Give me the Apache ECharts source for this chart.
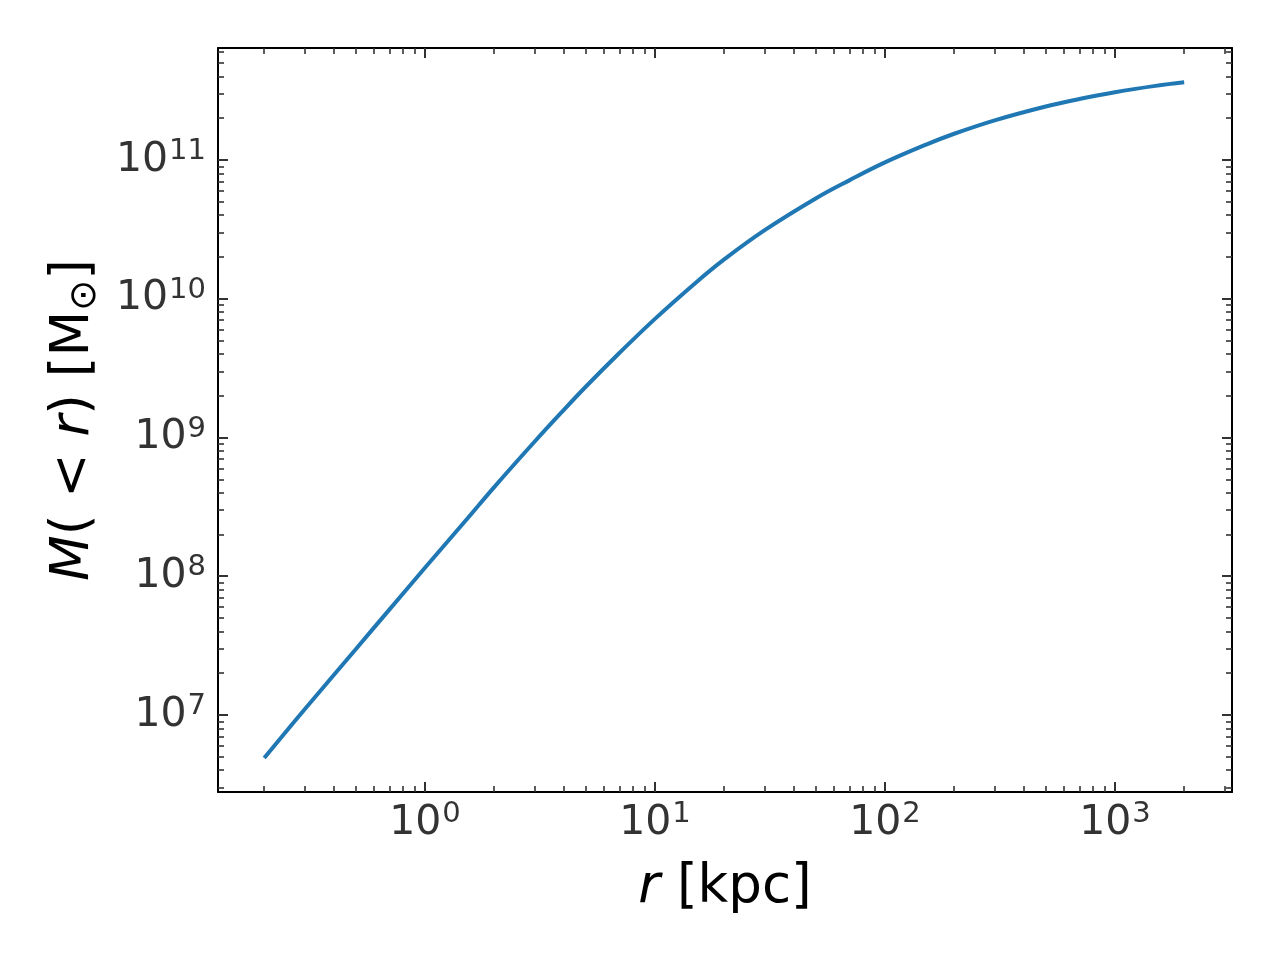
<!DOCTYPE html>
<html>
<head>
<meta charset="utf-8">
<title>M(&lt;r)</title>
<style>
  html, body { margin: 0; padding: 0; background: #fff; }
  #main { width: 1280px; height: 960px; }
</style>
<script src="https://cdn.jsdelivr.net/npm/echarts@6/dist/echarts.min.js"></script>
</head>
<body>
<div id="main"></div>
<script>
// radius [kpc] and enclosed mass [Msun]
var radius = [0.2, 0.3, 0.5, 0.7, 1, 1.5, 2, 3, 4, 5, 7, 10, 15, 20, 30, 50, 70,
              100, 150, 200, 300, 500, 700, 1000, 1500, 2000];
var mass = [4.9e6, 1.1e7, 2.98e7, 5.75e7, 1.15e8, 2.51e8, 4.39e8, 9.35e8, 1.57e9, 2.32e9,
            4.06e9, 7.16e9, 1.30e10, 1.92e10, 3.12e10, 5.28e10, 7.13e10,
            9.6e10, 1.285e11, 1.545e11, 1.93e11, 2.43e11, 2.75e11, 3.08e11, 3.42e11, 3.63e11];

// tick positions
var xMajor = [1, 10, 100, 1000];
var yMajor = [1e7, 1e8, 1e9, 1e10, 1e11];
var mantissa = [2, 3, 4, 5, 6, 7, 8, 9];
var xDecades = [0.1, 1, 10, 100, 1000];
var yDecades = [1e6, 1e7, 1e8, 1e9, 1e10, 1e11];

var xMin = Math.pow(10, -0.9), xMax = Math.pow(10, 3.509);
var yMin = Math.pow(10, 6.445), yMax = Math.pow(10, 11.807);

function minorTicks(decades, lo, hi) {
    var out = [];
    decades.forEach(function (d) {
        mantissa.forEach(function (m) {
            var v = +(m * d).toPrecision(3);
            if (v > lo && v < hi) out.push(v);
        });
    });
    return out;
}
var xMinor = minorTicks(xDecades, xMin, xMax);
var yMinor = minorTicks(yDecades, yMin, yMax);

var FONT = 'DejaVu Sans';

function powLabel(v) {
    return '{b|10}{e|' + Math.round(Math.log10(v)) + '}';
}
var labelRich = {
    b: { fontFamily: FONT, fontSize: 41, color: '#333', lineHeight: 46 },
    e: { fontFamily: FONT, fontSize: 29, color: '#333', verticalAlign: 'top', lineHeight: 30, padding: [0, 0, 0, 1] }
};

function makeAxis(dim, position, major, showLabel, minor) {
    var ax = {
        type: 'log',
        position: position,
        min: dim === 'x' ? xMin : yMin,
        max: dim === 'x' ? xMax : yMax,
        splitLine: { show: false },
        axisLine: { show: !minor, onZero: false, lineStyle: { color: '#000', width: 2 } },
        axisTick: {
            show: true,
            inside: true,
            length: minor ? 6 : 10,
            customValues: major,
            lineStyle: { color: '#333', width: minor ? 1.6 : 2 }
        },
        axisLabel: { show: false }
    };
    if (showLabel) {
        ax.axisLabel = {
            show: true,
            customValues: major,
            margin: dim === 'x' ? 8 : 12,
            formatter: powLabel,
            rich: labelRich
        };
    }
    return ax;
}

var xBottom = makeAxis('x', 'bottom', xMajor, true, false);
xBottom.name = '{i|r}{n| [kpc]}';
xBottom.nameLocation = 'middle';
xBottom.nameGap = 70;
xBottom.nameTextStyle = {
    rich: {
        i: { fontFamily: FONT, fontSize: 53, fontStyle: 'italic', color: '#000' },
        n: { fontFamily: FONT, fontSize: 53, color: '#000' }
    }
};

var yLeft = makeAxis('y', 'left', yMajor, true, false);
yLeft.name = '{i|M}{n|( < }{i|r}{n|) [M}{s|⊙}{n|]}';
yLeft.nameLocation = 'middle';
yLeft.nameGap = 114;
yLeft.nameRotate = 90;
yLeft.nameTextStyle = {
    rich: {
        i: { fontFamily: FONT, fontSize: 53, fontStyle: 'italic', color: '#000', lineHeight: 60 },
        n: { fontFamily: FONT, fontSize: 53, color: '#000', lineHeight: 60 },
        s: { fontFamily: FONT, fontSize: 37, color: '#000', verticalAlign: 'bottom', lineHeight: 42 }
    }
};

var option = {
    backgroundColor: '#fff',
    animation: false,
    grid: { left: 218, right: 48, top: 48, bottom: 168, containLabel: false, outerBoundsMode: 'none' },
    xAxis: [
        xBottom,
        makeAxis('x', 'bottom', xMinor, false, true),
        makeAxis('x', 'top', xMajor, false, false),
        makeAxis('x', 'top', xMinor, false, true)
    ],
    yAxis: [
        yLeft,
        makeAxis('y', 'left', yMinor, false, true),
        makeAxis('y', 'right', yMajor, false, false),
        makeAxis('y', 'right', yMinor, false, true)
    ],
    series: [{
        type: 'line',
        xAxisIndex: 0,
        yAxisIndex: 0,
        data: radius.map(function (r, i) { return [r, mass[i]]; }),
        showSymbol: false,
        smooth: 0.4,
        lineStyle: { color: '#1f77b4', width: 4 },
        itemStyle: { color: '#1f77b4' }
    }]
};

var myChart = echarts.init(document.getElementById('main'));
myChart.setOption(option);
</script>
</body>
</html>
